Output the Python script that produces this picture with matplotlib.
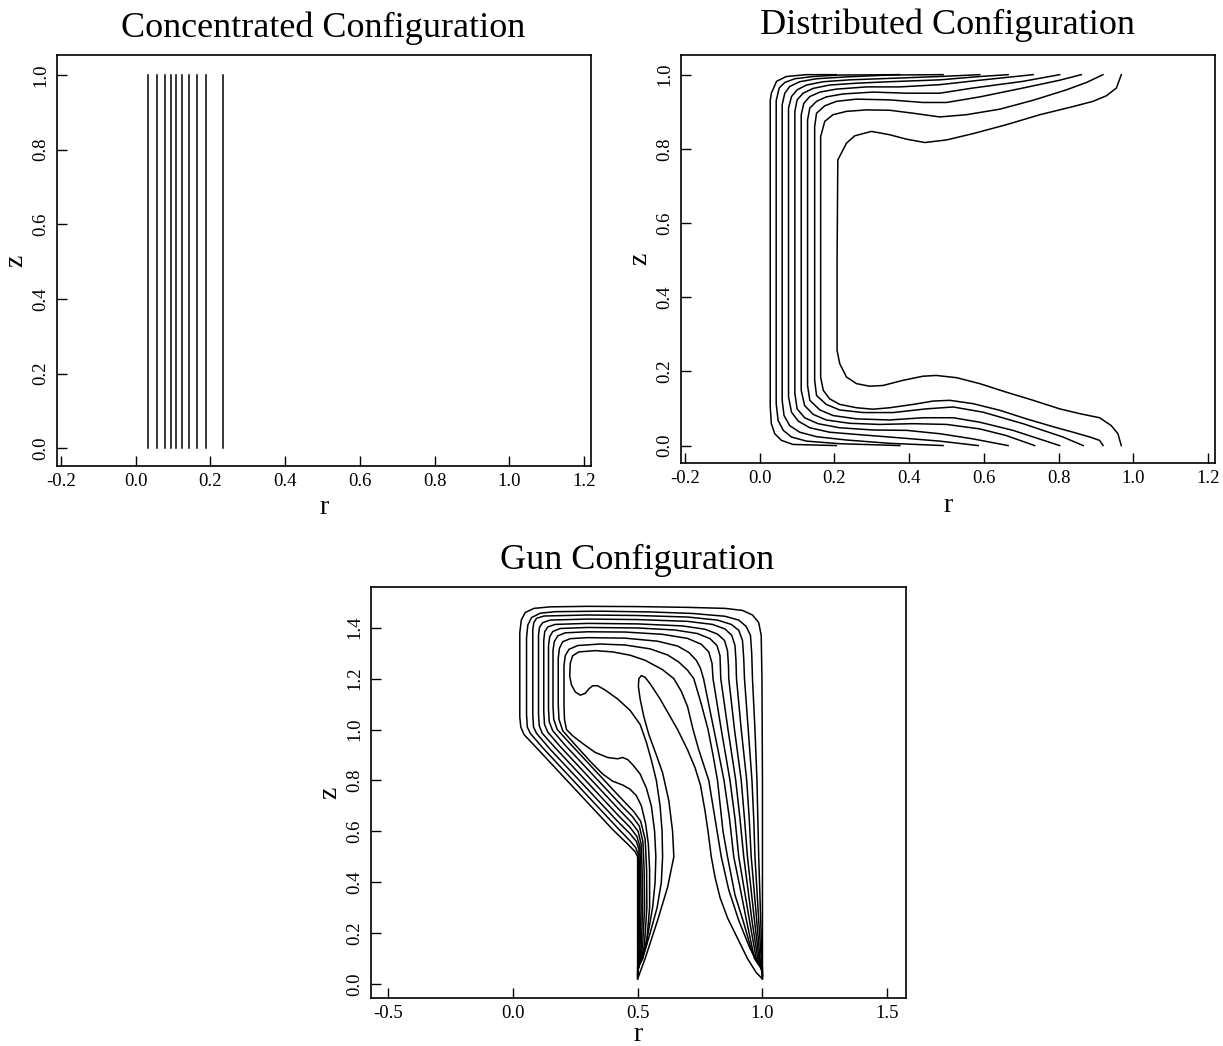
import matplotlib
matplotlib.use('Agg')
import matplotlib.pyplot as plt

# Concentrated configuration: flux lines are straight, r positions only
conc_r = [0.034, 0.056, 0.077, 0.094, 0.107, 0.124, 0.142, 0.165, 0.189, 0.233]
conc_z = [0.0, 1.0]

# Distributed configuration: contours, (r, z) pairs
dist_1 = [(0.205, 0.0), (0.089, 0.003), (0.058, 0.014), (0.040, 0.032), (0.031, 0.059), (0.028, 0.104),
          (0.028, 0.5), (0.028, 0.93), (0.031, 0.95), (0.045, 0.982), (0.071, 0.995), (0.125, 1.0), (0.205, 1.0)]
dist_2 = [(0.375, 0.0), (0.214, 0.005), (0.125, 0.012), (0.085, 0.023), (0.063, 0.041), (0.049, 0.068), (0.044, 0.113),
          (0.044, 0.5), (0.044, 0.93), (0.052, 0.964), (0.067, 0.979), (0.094, 0.989), (0.143, 0.995), (0.214, 0.999), (0.375, 1.0)]
dist_3 = [(0.491, 0.0), (0.348, 0.006), (0.232, 0.015), (0.152, 0.024), (0.107, 0.036), (0.080, 0.054), (0.065, 0.081), (0.060, 0.122),
          (0.060, 0.5), (0.060, 0.919), (0.067, 0.95), (0.080, 0.968), (0.107, 0.981), (0.152, 0.989), (0.232, 0.994), (0.348, 0.999), (0.491, 1.0)]
dist_4 = [(0.585, 0.0), (0.482, 0.012), (0.348, 0.023), (0.259, 0.030), (0.187, 0.036), (0.134, 0.048), (0.103, 0.066), (0.085, 0.090), (0.077, 0.131),
          (0.077, 0.5), (0.077, 0.910), (0.085, 0.941), (0.100, 0.959), (0.125, 0.972), (0.170, 0.981), (0.241, 0.986), (0.348, 0.990), (0.482, 0.995), (0.589, 1.0)]
dist_5 = [(0.665, 0.0), (0.571, 0.018), (0.482, 0.032), (0.393, 0.041), (0.303, 0.042), (0.214, 0.048), (0.156, 0.059), (0.120, 0.075), (0.100, 0.099), (0.094, 0.140),
          (0.094, 0.5), (0.094, 0.901), (0.100, 0.932), (0.116, 0.950), (0.143, 0.963), (0.187, 0.972), (0.259, 0.977), (0.348, 0.981), (0.482, 0.986), (0.589, 0.995), (0.665, 1.0)]
dist_6 = [(0.736, 0.0), (0.660, 0.027), (0.589, 0.045), (0.500, 0.057), (0.411, 0.059), (0.321, 0.057), (0.241, 0.060), (0.178, 0.069), (0.143, 0.084), (0.120, 0.108), (0.111, 0.149),
          (0.111, 0.5), (0.111, 0.892), (0.118, 0.923), (0.134, 0.941), (0.161, 0.953), (0.205, 0.961), (0.286, 0.967), (0.375, 0.967), (0.482, 0.973), (0.589, 0.985), (0.732, 1.0)]
dist_7 = [(0.803, 0.0), (0.678, 0.041), (0.589, 0.063), (0.518, 0.075), (0.437, 0.075), (0.348, 0.069), (0.259, 0.072), (0.196, 0.081), (0.161, 0.096), (0.134, 0.122), (0.128, 0.162),
          (0.128, 0.5), (0.128, 0.878), (0.134, 0.910), (0.152, 0.928), (0.178, 0.940), (0.223, 0.948), (0.303, 0.953), (0.393, 0.950), (0.482, 0.950), (0.571, 0.964), (0.705, 0.982), (0.803, 1.0)]
dist_8 = [(0.866, 0.0), (0.812, 0.023), (0.705, 0.059), (0.598, 0.090), (0.518, 0.104), (0.446, 0.099), (0.357, 0.089), (0.277, 0.089), (0.214, 0.096), (0.178, 0.111), (0.152, 0.135), (0.147, 0.176),
          (0.147, 0.5), (0.147, 0.860), (0.152, 0.896), (0.174, 0.916), (0.205, 0.928), (0.259, 0.934), (0.348, 0.932), (0.437, 0.925), (0.500, 0.925), (0.589, 0.940), (0.705, 0.964), (0.803, 0.985), (0.861, 1.0)]
dist_9 = [(0.919, 0.0), (0.910, 0.014), (0.884, 0.023), (0.839, 0.036), (0.785, 0.051), (0.714, 0.072), (0.643, 0.095), (0.571, 0.113), (0.509, 0.122), (0.464, 0.120), (0.411, 0.111),
          (0.348, 0.102), (0.303, 0.098), (0.259, 0.102), (0.214, 0.111), (0.187, 0.126), (0.170, 0.149), (0.163, 0.185),
          (0.163, 0.5), (0.163, 0.833), (0.174, 0.874), (0.196, 0.892), (0.232, 0.901), (0.286, 0.905), (0.348, 0.904), (0.411, 0.896), (0.482, 0.886),
          (0.553, 0.892), (0.643, 0.907), (0.732, 0.931), (0.821, 0.959), (0.875, 0.979), (0.919, 1.0)]
dist_10 = [(0.968, 0.0), (0.959, 0.032), (0.941, 0.054), (0.910, 0.075), (0.857, 0.086), (0.803, 0.099), (0.732, 0.122), (0.660, 0.144), (0.589, 0.167), (0.527, 0.183),
           (0.473, 0.189), (0.437, 0.187), (0.384, 0.176), (0.330, 0.162), (0.294, 0.160), (0.259, 0.167), (0.232, 0.185), (0.214, 0.221), (0.207, 0.257),
           (0.207, 0.5), (0.209, 0.770), (0.232, 0.815), (0.254, 0.835), (0.299, 0.847), (0.348, 0.838), (0.393, 0.826), (0.442, 0.817), (0.500, 0.824),
           (0.571, 0.841), (0.660, 0.865), (0.750, 0.892), (0.839, 0.914), (0.892, 0.928), (0.928, 0.943), (0.955, 0.964), (0.968, 1.0)]

# Gun configuration: contours from inner electrode foot round to outer electrode foot
gun_1 = [(0.500, 0.02), (0.500, 0.30), (0.500, 0.50), (0.490, 0.52), (0.460, 0.55), (0.400, 0.607), (0.250, 0.765), (0.100, 0.923),
         (0.045, 0.980), (0.032, 1.01), (0.028, 1.05), (0.028, 1.20), (0.028, 1.38), (0.034, 1.43), (0.050, 1.460), (0.085, 1.476),
         (0.150, 1.482), (0.300, 1.484), (0.500, 1.483), (0.700, 1.480), (0.850, 1.476), (0.920, 1.468), (0.960, 1.450), (0.985, 1.42),
         (0.995, 1.37), (0.998, 1.20), (1.000, 0.80), (1.000, 0.40), (1.000, 0.02)]
gun_2 = [(0.500, 0.025), (0.502, 0.12), (0.503, 0.25), (0.503, 0.40), (0.502, 0.51), (0.493, 0.535), (0.470, 0.562), (0.420, 0.613),
         (0.275, 0.765), (0.120, 0.928), (0.070, 0.985), (0.058, 1.01), (0.055, 1.06), (0.055, 1.36), (0.060, 1.41), (0.075, 1.44),
         (0.110, 1.457), (0.170, 1.463), (0.350, 1.465), (0.550, 1.462), (0.720, 1.456), (0.850, 1.445), (0.905, 1.43), (0.935, 1.405),
         (0.952, 1.37), (0.957, 1.30), (0.960, 1.20), (0.970, 1.00), (0.978, 0.80), (0.985, 0.50), (0.993, 0.25), (0.998, 0.10), (1.000, 0.025)]
gun_3 = [(0.500, 0.03), (0.506, 0.15), (0.508, 0.30), (0.507, 0.45), (0.505, 0.53), (0.495, 0.56), (0.470, 0.59), (0.420, 0.639),
         (0.300, 0.765), (0.150, 0.922), (0.095, 0.985), (0.083, 1.01), (0.080, 1.06), (0.080, 1.39), (0.084, 1.42), (0.095, 1.437),
         (0.125, 1.446), (0.300, 1.450), (0.500, 1.448), (0.700, 1.442), (0.820, 1.430), (0.875, 1.413), (0.905, 1.39), (0.920, 1.35),
         (0.925, 1.28), (0.928, 1.20), (0.943, 1.00), (0.958, 0.80), (0.965, 0.65), (0.970, 0.50), (0.985, 0.25), (0.995, 0.10), (1.000, 0.03)]
gun_4 = [(0.500, 0.035), (0.510, 0.15), (0.514, 0.30), (0.512, 0.45), (0.509, 0.54), (0.497, 0.58), (0.470, 0.615), (0.420, 0.665),
         (0.325, 0.765), (0.170, 0.928), (0.118, 0.985), (0.106, 1.015), (0.103, 1.06), (0.103, 1.37), (0.107, 1.402), (0.120, 1.42),
         (0.150, 1.430), (0.300, 1.434), (0.500, 1.432), (0.700, 1.425), (0.800, 1.413), (0.850, 1.395), (0.877, 1.37), (0.890, 1.33),
         (0.894, 1.27), (0.896, 1.20), (0.915, 1.00), (0.937, 0.80), (0.947, 0.65), (0.955, 0.50), (0.977, 0.25), (0.990, 0.10), (1.000, 0.035)]
gun_5 = [(0.500, 0.04), (0.515, 0.15), (0.520, 0.30), (0.518, 0.45), (0.514, 0.55), (0.502, 0.60), (0.475, 0.635), (0.430, 0.681),
         (0.350, 0.765), (0.190, 0.933), (0.140, 0.99), (0.127, 1.02), (0.124, 1.07), (0.124, 1.35), (0.128, 1.385), (0.140, 1.403),
         (0.170, 1.413), (0.300, 1.417), (0.500, 1.415), (0.680, 1.407), (0.770, 1.394), (0.820, 1.375), (0.848, 1.35), (0.860, 1.31),
         (0.864, 1.25), (0.865, 1.20), (0.888, 1.00), (0.915, 0.80), (0.928, 0.65), (0.940, 0.50), (0.968, 0.25), (0.986, 0.10), (1.000, 0.04)]
gun_6 = [(0.500, 0.045), (0.520, 0.15), (0.528, 0.30), (0.526, 0.45), (0.521, 0.56), (0.507, 0.62), (0.480, 0.657), (0.440, 0.697),
         (0.375, 0.765), (0.210, 0.938), (0.160, 0.995), (0.146, 1.03), (0.143, 1.08), (0.143, 1.33), (0.148, 1.365), (0.160, 1.385),
         (0.190, 1.397), (0.300, 1.401), (0.500, 1.399), (0.650, 1.391), (0.740, 1.377), (0.790, 1.357), (0.818, 1.33), (0.830, 1.29),
         (0.833, 1.20), (0.862, 1.00), (0.893, 0.80), (0.910, 0.65), (0.925, 0.50), (0.958, 0.25), (0.981, 0.10), (1.000, 0.045)]
gun_7 = [(0.500, 0.05), (0.527, 0.15), (0.537, 0.30), (0.536, 0.45), (0.530, 0.57), (0.512, 0.64), (0.485, 0.677), (0.450, 0.713),
         (0.400, 0.765), (0.230, 0.944), (0.178, 1.00), (0.164, 1.04), (0.161, 1.09), (0.161, 1.31), (0.166, 1.345), (0.180, 1.368),
         (0.210, 1.380), (0.300, 1.384), (0.450, 1.383), (0.600, 1.374), (0.700, 1.358), (0.755, 1.335), (0.785, 1.305), (0.798, 1.26),
         (0.802, 1.20), (0.835, 1.00), (0.870, 0.80), (0.890, 0.65), (0.905, 0.50), (0.948, 0.25), (0.975, 0.10), (1.000, 0.05)]
gun_8 = [(0.500, 0.055), (0.535, 0.15), (0.548, 0.30), (0.548, 0.45), (0.543, 0.55), (0.532, 0.63), (0.515, 0.70), (0.495, 0.74),
         (0.470, 0.765), (0.440, 0.782), (0.400, 0.797), (0.360, 0.825), (0.310, 0.875), (0.250, 0.94), (0.200, 0.995), (0.185, 1.04),
         (0.182, 1.10), (0.182, 1.28), (0.187, 1.32), (0.200, 1.345), (0.230, 1.357), (0.300, 1.361), (0.450, 1.359), (0.580, 1.347),
         (0.660, 1.328), (0.705, 1.303), (0.735, 1.272), (0.752, 1.24), (0.764, 1.20), (0.795, 1.05), (0.822, 0.92), (0.846, 0.80),
         (0.868, 0.65), (0.885, 0.50), (0.910, 0.38), (0.936, 0.25), (0.968, 0.10), (1.000, 0.055)]
gun_9 = [(0.500, 0.06), (0.520, 0.10), (0.542, 0.20), (0.560, 0.30), (0.570, 0.40), (0.573, 0.50), (0.568, 0.60), (0.555, 0.70),
         (0.535, 0.77), (0.510, 0.825), (0.480, 0.862), (0.460, 0.882), (0.440, 0.89), (0.420, 0.885), (0.380, 0.89), (0.330, 0.91),
         (0.280, 0.945), (0.240, 0.975), (0.215, 1.00), (0.207, 1.04), (0.205, 1.10), (0.205, 1.25), (0.210, 1.29), (0.225, 1.315),
         (0.260, 1.330), (0.350, 1.336), (0.450, 1.332), (0.550, 1.317), (0.620, 1.293), (0.665, 1.265), (0.700, 1.233), (0.725, 1.20),
         (0.755, 1.10), (0.782, 1.00), (0.802, 0.90), (0.820, 0.80), (0.842, 0.60), (0.860, 0.50), (0.890, 0.35), (0.922, 0.25),
         (0.960, 0.12), (0.985, 0.075), (1.000, 0.06)]
gun_10 = [(0.500, 0.065), (0.520, 0.10), (0.550, 0.20), (0.578, 0.30), (0.595, 0.40), (0.600, 0.50), (0.598, 0.60), (0.590, 0.70),
          (0.575, 0.80), (0.555, 0.88), (0.535, 0.95), (0.510, 1.02), (0.470, 1.075), (0.420, 1.12), (0.370, 1.155), (0.340, 1.172),
          (0.320, 1.172), (0.305, 1.16), (0.290, 1.142), (0.270, 1.135), (0.250, 1.148), (0.235, 1.175), (0.228, 1.21), (0.230, 1.26),
          (0.240, 1.29), (0.265, 1.305), (0.330, 1.310), (0.400, 1.305), (0.470, 1.292), (0.530, 1.272), (0.600, 1.235), (0.645, 1.20),
          (0.675, 1.15), (0.700, 1.09), (0.722, 1.00), (0.745, 0.92), (0.785, 0.80), (0.810, 0.65), (0.835, 0.50), (0.865, 0.37),
          (0.905, 0.25), (0.950, 0.14), (0.980, 0.09), (1.000, 0.065)]
gun_11 = [(0.500, 0.02), (0.530, 0.10), (0.580, 0.25), (0.620, 0.38), (0.645, 0.50), (0.640, 0.60), (0.625, 0.72), (0.600, 0.83),
          (0.575, 0.90), (0.545, 0.98), (0.525, 1.05), (0.510, 1.12), (0.503, 1.17), (0.505, 1.20), (0.515, 1.212), (0.530, 1.205),
          (0.550, 1.18), (0.590, 1.12), (0.625, 1.06), (0.660, 1.00), (0.700, 0.92), (0.730, 0.85), (0.752, 0.78), (0.770, 0.68),
          (0.782, 0.60), (0.795, 0.50), (0.810, 0.42), (0.830, 0.34), (0.860, 0.26), (0.900, 0.18), (0.940, 0.10), (0.975, 0.045),
          (1.000, 0.02)]

dist_contours = [dist_1, dist_2, dist_3, dist_4, dist_5, dist_6, dist_7, dist_8, dist_9, dist_10]
gun_contours = [gun_1, gun_2, gun_3, gun_4, gun_5, gun_6, gun_7, gun_8, gun_9, gun_10, gun_11]

serif = ['Liberation Serif', 'DejaVu Serif']
W, H = 1223, 1046

fig = plt.figure(figsize=(W / 100, H / 100), dpi=100)


def px_axes(left, top, right, bottom):
    return fig.add_axes([left / W, 1 - bottom / H, (right - left) / W, (bottom - top) / H])


def style(ax, xticks, yticks, xpad=4):
    ax.set_xticks(xticks)
    ax.set_yticks(yticks)
    ax.set_xticklabels(['%.1f' % t for t in xticks], family=serif, fontsize=13.5)
    ax.set_yticklabels(['%.1f' % t for t in yticks], family=serif, fontsize=13.5,
                       rotation=90, va='center')
    ax.tick_params(direction='in', length=7, width=1.0, pad=5)
    for s in ax.spines.values():
        s.set_linewidth(1.2)
    ax.set_xlabel('r', family=serif, fontsize=20, labelpad=xpad)
    ax.set_ylabel('z', family=serif, fontsize=20, labelpad=3)


# panel 1
ax1 = px_axes(56.6, 55, 591, 466)
for r in conc_r:
    ax1.plot([r, r], conc_z, color='black', lw=1.1)
ax1.set_xlim(-0.212, 1.219)
ax1.set_ylim(-0.048, 1.054)
style(ax1, [-0.2, 0.0, 0.2, 0.4, 0.6, 0.8, 1.0, 1.2], [0.0, 0.2, 0.4, 0.6, 0.8, 1.0])

# panel 2
ax2 = px_axes(680.6, 55, 1215, 463)
for c in dist_contours:
    ax2.plot([p[0] for p in c], [p[1] for p in c], color='black', lw=1.1)
ax2.set_xlim(-0.212, 1.219)
ax2.set_ylim(-0.047, 1.053)
style(ax2, [-0.2, 0.0, 0.2, 0.4, 0.6, 0.8, 1.0, 1.2], [0.0, 0.2, 0.4, 0.6, 0.8, 1.0])

# panel 3
ax3 = px_axes(370.5, 587, 906, 998)
for c in gun_contours:
    ax3.plot([p[0] for p in c], [p[1] for p in c], color='black', lw=1.1)
ax3.set_xlim(-0.57, 1.575)
ax3.set_ylim(-0.055, 1.56)
style(ax3, [-0.5, 0.0, 0.5, 1.0, 1.5], [0.0, 0.2, 0.4, 0.6, 0.8, 1.0, 1.2, 1.4], xpad=0)

fig.text(323 / W, 1 - 28 / H, 'Concentrated Configuration', family=serif, fontsize=26, ha='center', va='center')
fig.text(947 / W, 1 - 25 / H, 'Distributed Configuration', family=serif, fontsize=26, ha='center', va='center')
fig.text(637 / W, 1 - 560 / H, 'Gun Configuration', family=serif, fontsize=26, ha='center', va='center')

fig.savefig('out.png', dpi=100)
